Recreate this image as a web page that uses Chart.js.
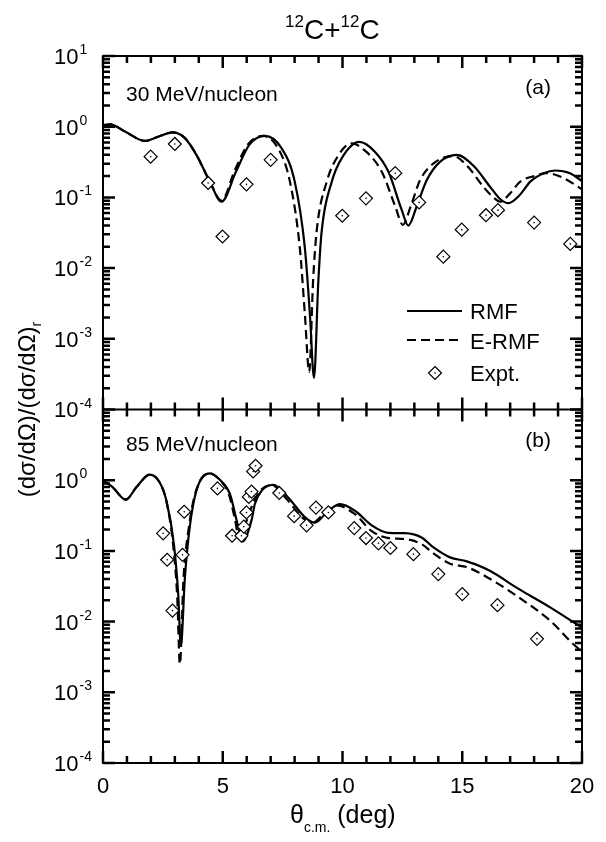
<!DOCTYPE html>
<html>
<head>
<meta charset="utf-8">
<script src="https://cdn.jsdelivr.net/npm/chart.js@4.4.0/dist/chart.umd.min.js"></script>
<style>
  html, body { margin: 0; padding: 0; background: #fff; }
</style>
</head>
<body>
<canvas id="chart" width="606" height="842"></canvas>
<script>
// panel (a): 30 MeV/nucleon
const angA_rmf = [0, 0.3, 0.9, 1.75, 2.3, 2.9, 3.4, 3.9, 4.45, 4.95, 5.55, 6.1, 6.75, 7.45, 8.0, 8.43, 8.64, 8.81, 8.99, 9.13,
                  9.55, 9.97, 10.7, 11.36, 11.92, 12.45, 12.75, 13.1, 13.52, 14.08, 14.77, 15.47, 16.17, 16.58, 16.93, 17.42, 17.84, 18.4, 18.88, 19.5, 20];
const valA_rmf = [1.05, 1.08, 0.86, 0.63, 0.72, 0.83, 0.7, 0.4, 0.17, 0.087, 0.23, 0.55, 0.74, 0.5, 0.17, 0.019, 0.0022, 0.00028, 0.0064, 0.033,
                  0.166, 0.36, 0.61, 0.44, 0.23, 0.07, 0.040, 0.075, 0.176, 0.32, 0.40, 0.28, 0.14, 0.095, 0.083, 0.11, 0.167, 0.22, 0.24, 0.22, 0.17];
const angA_erm = [0, 0.3, 0.9, 1.75, 2.3, 2.9, 3.4, 3.9, 4.45, 4.95, 5.5, 6.05, 6.7, 7.3, 7.8, 8.22, 8.43, 8.61, 8.77, 8.92,
                  9.34, 9.8, 10.38, 11.0, 11.64, 12.2, 12.52, 12.85, 13.24, 13.9, 14.63, 15.2, 15.89, 16.3, 16.58, 17.0, 17.42, 18.0, 18.54, 19.2, 20];
const valA_erm = [1.05, 1.08, 0.86, 0.63, 0.72, 0.83, 0.7, 0.4, 0.17, 0.09, 0.24, 0.56, 0.74, 0.5, 0.17, 0.019, 0.0022, 0.00034, 0.0064, 0.033,
                  0.166, 0.38, 0.58, 0.44, 0.23, 0.075, 0.041, 0.075, 0.176, 0.32, 0.385, 0.28, 0.14, 0.1, 0.087, 0.114, 0.167, 0.2, 0.22, 0.19, 0.13];
const angA_exp = [1.99, 3.0, 4.39, 4.99, 5.99, 7.0, 9.99, 10.98, 12.2, 13.2, 14.21, 14.98, 15.99, 16.49, 18.0, 19.51];
const valA_exp = [0.377, 0.57, 0.16, 0.028, 0.153, 0.34, 0.055, 0.097, 0.22, 0.085, 0.0145, 0.035, 0.056, 0.066, 0.044, 0.022];

// panel (b): 85 MeV/nucleon
const angB_rmf = [0, 0.4, 0.95, 1.4, 1.95, 2.35, 2.65, 2.96, 3.14, 3.25, 3.42, 3.62, 3.9, 4.46, 4.9, 5.3, 5.58, 5.82, 6.2, 6.34,
                  6.62, 7.11, 7.73, 8.43, 8.84, 9.41, 9.9, 10.52, 11.22, 11.92, 12.6, 13.3, 13.8, 14.49, 15.19, 16.17, 17.28, 18.67, 20];
const valB_rmf = [1.0, 0.8, 0.53, 0.8, 1.2, 0.95, 0.51, 0.125, 0.0245, 0.0045, 0.042, 0.215, 0.71, 1.25, 1.0, 0.64, 0.27, 0.136, 0.27, 0.46,
                  0.71, 0.86, 0.57, 0.30, 0.25, 0.37, 0.46, 0.37, 0.23, 0.18, 0.178, 0.155, 0.112, 0.081, 0.071, 0.052, 0.030, 0.0159, 0.0082];
const angB_erm = [0, 0.4, 0.95, 1.4, 1.95, 2.35, 2.65, 2.93, 3.1, 3.21, 3.36, 3.58, 3.88, 4.45, 4.88, 5.25, 5.5, 5.68, 6.05, 6.25,
                  6.55, 7.05, 7.65, 8.35, 8.75, 9.3, 9.76, 10.52, 11.22, 11.92, 12.6, 13.3, 13.8, 14.49, 15.19, 16.17, 17.28, 18.67, 19.8, 20];
const valB_erm = [1.0, 0.8, 0.53, 0.8, 1.2, 0.95, 0.5, 0.12, 0.022, 0.0025, 0.04, 0.21, 0.7, 1.25, 1.0, 0.64, 0.29, 0.155, 0.3, 0.46,
                  0.7, 0.85, 0.55, 0.29, 0.25, 0.36, 0.44, 0.33, 0.19, 0.152, 0.147, 0.125, 0.092, 0.066, 0.059, 0.040, 0.023, 0.0103, 0.0043, 0.0039];
const angB_exp = [2.51, 2.68, 2.90, 3.32, 3.39, 4.78, 5.39, 5.78, 5.88, 5.99, 6.09, 6.2, 6.27, 6.37, 7.36, 7.98, 8.5, 8.89, 9.41, 10.49,
                  10.98, 11.5, 12.0, 12.96, 14.0, 15.0, 16.47, 18.12];
const valB_exp = [0.177, 0.075, 0.0143, 0.088, 0.358, 0.766, 0.164, 0.164, 0.22, 0.35, 0.58, 0.69, 1.33, 1.6, 0.66, 0.31, 0.23, 0.41, 0.35, 0.21,
                  0.152, 0.128, 0.11, 0.090, 0.047, 0.0245, 0.0171, 0.0057];

// axes
const xTicks = [0, 1, 2, 3, 4, 5, 6, 7, 8, 9, 10, 11, 12, 13, 14, 15, 16, 17, 18, 19, 20];
const xTickLabels = ['0', '5', '10', '15', '20'];
const topExps = ['1', '0', '-1', '-2', '-3', '-4'];
const botExps = ['0', '-1', '-2', '-3', '-4'];
const seriesNames = ['RMF', 'E-RMF', 'Expt.'];
const panelNames = ['30 MeV/nucleon', '85 MeV/nucleon'];

const FONT = '"Liberation Sans", Arial, Helvetica, sans-serif';

function pts(xs, ys) {
    return xs.map((x, i) => ({ x: x, y: ys[i] }));
}

function lineSet(xs, ys, axis, dashed) {
    return {
        data: pts(xs, ys),
        yAxisID: axis,
        showLine: true,
        borderColor: '#000',
        borderWidth: 2.2,
        borderDash: dashed ? [9, 5] : [],
        pointRadius: 0,
        cubicInterpolationMode: 'monotone',
        fill: false,
        order: 3
    };
}

function exptSet(xs, ys, axis) {
    return {
        data: pts(xs, ys),
        yAxisID: axis,
        showLine: false,
        pointStyle: 'rectRot',
        pointRadius: 6.5,
        pointBorderWidth: 1.2,
        pointBorderColor: '#000',
        pointBackgroundColor: '#fff',
        order: 2
    };
}

function dotSet(xs, ys, axis) {
    return {
        data: pts(xs, ys),
        yAxisID: axis,
        showLine: false,
        pointStyle: 'circle',
        pointRadius: 0.8,
        pointBorderWidth: 0,
        pointBackgroundColor: '#000',
        order: 1
    };
}

// write 10^exp starting at x, vertically centred on y
function drawPow(ctx, exp, x, y, size) {
    ctx.textAlign = 'left';
    ctx.textBaseline = 'alphabetic';
    ctx.font = size + 'px ' + FONT;
    ctx.fillText('10', x, y + size * 0.36);
    const w = ctx.measureText('10').width;
    ctx.font = Math.round(size * 0.65) + 'px ' + FONT;
    ctx.fillText(exp, x + w + 1, y + size * 0.36 - size * 0.45);
}

function seg(ctx, x1, y1, x2, y2) {
    ctx.beginPath();
    ctx.moveTo(x1, y1);
    ctx.lineTo(x2, y2);
    ctx.stroke();
}

const framePlugin = {
    id: 'frame',
    afterDraw(chart) {
        const ctx = chart.ctx;
        const a = chart.chartArea;
        const xs = chart.scales.x, yt = chart.scales.yTop, yb = chart.scales.yBot;
        const mid = yt.getPixelForValue(1e-4);
        ctx.save();
        ctx.setLineDash([]);
        ctx.strokeStyle = '#000';
        ctx.fillStyle = '#000';

        // frame
        ctx.lineWidth = 2;
        ctx.strokeRect(a.left, a.top, a.right - a.left, a.bottom - a.top);
        seg(ctx, a.left, mid, a.right, mid);

        // inward ticks on every side, both ways on the shared middle axis
        ctx.lineWidth = 2.5;
        ctx.lineCap = 'butt';
        ctx.beginPath();
        for (let i = 0; i < xTicks.length; i++) {
            const t = xTicks[i];
            const px = xs.getPixelForValue(t);
            const len = (t % 5 === 0) ? 12 : 7;
            ctx.moveTo(px, a.bottom); ctx.lineTo(px, a.bottom - len);
            ctx.moveTo(px, a.top); ctx.lineTo(px, a.top + len);
            ctx.moveTo(px, mid - len); ctx.lineTo(px, mid + len);
        }
        const scales = [yt, yb];
        for (let j = 0; j < 2; j++) {
            for (let k = -4; k <= 1; k++) {
                for (let m = 1; m < 10; m++) {
                    const v = m * Math.pow(10, k);
                    if (v > 10.0001) break;
                    const py = scales[j].getPixelForValue(v);
                    const len = (m === 1) ? 12 : 7;
                    ctx.moveTo(a.left, py); ctx.lineTo(a.left + len, py);
                    ctx.moveTo(a.right, py); ctx.lineTo(a.right - len, py);
                }
            }
        }
        ctx.stroke();

        // y tick labels
        topExps.forEach(e => drawPow(ctx, e, 54, yt.getPixelForValue(Math.pow(10, +e)), 22));
        botExps.forEach(e => drawPow(ctx, e, 54, yb.getPixelForValue(Math.pow(10, +e)), 22));

        // x tick labels
        ctx.font = '22px ' + FONT;
        ctx.textAlign = 'center';
        ctx.textBaseline = 'alphabetic';
        xTickLabels.forEach(t => ctx.fillText(t, xs.getPixelForValue(+t), 793));

        // panel labels
        ctx.textAlign = 'left';
        ctx.font = '21px ' + FONT;
        ctx.fillText(panelNames[0], 126, 101);
        ctx.fillText(panelNames[1], 126, 451);
        ctx.textAlign = 'right';
        ctx.fillText('(a)', 551, 94);
        ctx.fillText('(b)', 551, 447);

        // title
        ctx.textAlign = 'left';
        let tx = 285;
        const parts = [['12', 17, -12], ['C+', 28, 0], ['12', 17, -12], ['C', 28, 0]];
        parts.forEach(p => {
            ctx.font = p[1] + 'px ' + FONT;
            ctx.fillText(p[0], tx, 39 + p[2]);
            tx += ctx.measureText(p[0]).width;
        });

        // x axis title
        ctx.font = '25px ' + FONT;
        const th = 'θ', rest = ' (deg)', sub = 'c.m.';
        const wTh = ctx.measureText(th).width;
        ctx.font = '14px ' + FONT;
        const wSub = ctx.measureText(sub).width;
        const xx = 290;
        ctx.font = '25px ' + FONT;
        ctx.fillText(th, xx, 823);
        ctx.font = '14px ' + FONT;
        ctx.fillText(sub, xx + wTh, 832);
        ctx.font = '25px ' + FONT;
        ctx.fillText(rest, xx + wTh + wSub, 823);

        // y axis title (rotated)
        ctx.save();
        ctx.translate(35, mid);
        ctx.rotate(-Math.PI / 2);
        const ymain = '(dσ/dΩ)/(dσ/dΩ)';
        ctx.font = '24px ' + FONT;
        const wy = ctx.measureText(ymain).width;
        ctx.font = '14px ' + FONT;
        const wr = ctx.measureText('r').width;
        const y0 = -(wy + wr) / 2;
        ctx.font = '24px ' + FONT;
        ctx.fillText(ymain, y0, 0);
        ctx.font = '14px ' + FONT;
        ctx.fillText('r', y0 + wy, 6);
        ctx.restore();

        // legend
        ctx.font = '22px ' + FONT;
        ctx.lineWidth = 2.2;
        seg(ctx, 407, 311, 462, 311);
        ctx.setLineDash([9, 5]);
        seg(ctx, 407, 340, 462, 340);
        ctx.setLineDash([]);
        ctx.lineWidth = 1.2;
        ctx.beginPath();
        ctx.moveTo(435, 366.5); ctx.lineTo(441.5, 373); ctx.lineTo(435, 379.5); ctx.lineTo(428.5, 373); ctx.closePath();
        ctx.stroke();
        ctx.beginPath();
        ctx.arc(435, 373, 0.8, 0, Math.PI * 2);
        ctx.fill();
        ctx.fillText(seriesNames[0], 470, 319);
        ctx.fillText(seriesNames[1], 470, 349);
        ctx.fillText(seriesNames[2], 470, 381);
        ctx.restore();
    }
};

new Chart(document.getElementById('chart'), {
    type: 'scatter',
    data: {
        datasets: [
            lineSet(angA_rmf, valA_rmf, 'yTop', false),
            lineSet(angA_erm, valA_erm, 'yTop', true),
            exptSet(angA_exp, valA_exp, 'yTop'),
            dotSet(angA_exp, valA_exp, 'yTop'),
            lineSet(angB_rmf, valB_rmf, 'yBot', false),
            lineSet(angB_erm, valB_erm, 'yBot', true),
            exptSet(angB_exp, valB_exp, 'yBot'),
            dotSet(angB_exp, valB_exp, 'yBot')
        ]
    },
    options: {
        responsive: false,
        animation: false,
        layout: { padding: { left: 103, right: 24, top: 56, bottom: 79 } },
        plugins: { legend: { display: false }, tooltip: { enabled: false } },
        scales: {
            x: { type: 'linear', min: 0, max: 20, display: false },
            // each panel takes half the height: top shows 1e-4..1e1, bottom 1e-4..1e1
            yTop: { type: 'logarithmic', min: 1e-9, max: 1e1, display: false },
            yBot: { type: 'logarithmic', min: 1e-4, max: 1e6, display: false }
        }
    },
    plugins: [framePlugin]
});
</script>
</body>
</html>
